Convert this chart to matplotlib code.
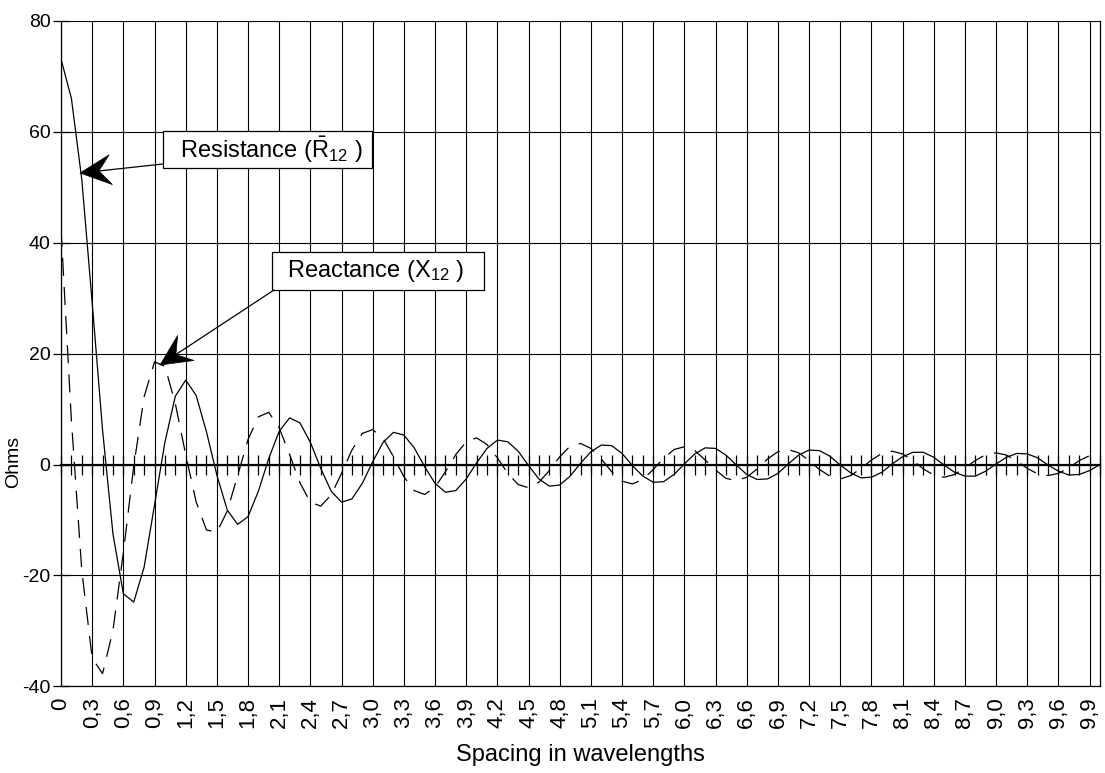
import numpy as np
import matplotlib.pyplot as plt
from matplotlib.patches import Polygon, Rectangle
from matplotlib.ticker import FixedLocator, MultipleLocator, FuncFormatter
from matplotlib.transforms import IdentityTransform

plt.rcParams['font.family'] = ['Liberation Sans', 'DejaVu Sans']
plt.rcParams['mathtext.fontset'] = 'custom'
plt.rcParams['mathtext.rm'] = 'Liberation Sans'
plt.rcParams['mathtext.it'] = 'Liberation Sans:italic'
plt.rcParams['lines.scale_dashes'] = False
plt.rcParams['axes.unicode_minus'] = False

# spacing in wavelengths, one category every 0.1
spacing = np.round(np.arange(101) * 0.1, 1)

# mutual resistance R12 (ohms)
resistance = [
    73.1, 66.0, 51.4, 29.2, 6.2, -12.5, -23.3, -24.8, -18.5, -7.3,
    4.0, 12.3, 15.2, 12.5, 5.9, -1.9, -8.2, -10.8, -9.4, -4.8,
    1.1, 6.0, 8.4, 7.5, 4.0, -0.7, -4.8, -6.8, -6.2, -3.4,
    0.5, 4.0, 5.8, 5.3, 3.0, -0.4, -3.4, -5.0, -4.7, -2.6,
    0.3, 2.9, 4.4, 4.1, 2.4, -0.2, -2.6, -3.9, -3.7, -2.1,
    0.2, 2.3, 3.5, 3.4, 2.0, -0.2, -2.1, -3.2, -3.1, -1.8,
    0.1, 1.9, 3.0, 2.9, 1.7, -0.1, -1.8, -2.7, -2.6, -1.6,
    0.1, 1.7, 2.6, 2.5, 1.5, -0.1, -1.5, -2.4, -2.3, -1.4,
    0.1, 1.4, 2.2, 2.2, 1.3, -0.1, -1.4, -2.1, -2.1, -1.2,
    0.1, 1.3, 2.0, 1.9, 1.2, -0.1, -1.2, -1.9, -1.8, -1.1,
    0.0,
]

# mutual reactance X12 (ohms)
reactance = [
    42.5, 8.0, -19.1, -34.9, -37.7, -29.9, -15.9, -0.3, 12.2, 18.5,
    17.7, 11.0, 1.8, -6.7, -11.8, -12.2, -8.4, -2.0, 4.5, 8.6,
    9.4, 6.6, 1.8, -3.3, -6.8, -7.5, -5.5, -1.6, 2.6, 5.6,
    6.3, 4.7, 1.4, -2.2, -4.7, -5.4, -4.1, -1.3, 1.8, 4.1,
    4.8, 3.6, 1.2, -1.6, -3.6, -4.2, -3.2, -1.1, 1.4, 3.3,
    3.8, 2.9, 1.0, -1.3, -3.0, -3.5, -2.7, -0.9, 1.1, 2.7,
    3.2, 2.5, 0.8, -1.0, -2.5, -2.9, -2.3, -0.8, 1.0, 2.3,
    2.7, 2.1, 0.7, -0.9, -2.1, -2.6, -2.0, -0.7, 0.8, 2.0,
    2.4, 1.9, 0.7, -0.8, -1.9, -2.3, -1.8, -0.6, 0.7, 1.8,
    2.1, 1.7, 0.6, -0.7, -1.7, -2.0, -1.6, -0.6, 0.7, 1.6,
    1.9,
]

W, H = 1105, 773
fig = plt.figure(figsize=(W / 100, H / 100), dpi=100)
left, right, top, bottom = 61, 1100, 20.7, 686.4
ax = fig.add_axes([left / W, 1 - bottom / H, (right - left) / W, (bottom - top) / H])

ax.plot(spacing, resistance, color='black', lw=0.9, zorder=3)
ax.plot(spacing, reactance, color='black', lw=0.9, dashes=(13, 8), zorder=3)

ax.set_xlim(0, 10)
ax.set_ylim(-40, 80)
ax.set_axisbelow(True)

ax.xaxis.set_major_locator(FixedLocator(spacing[::3]))
ax.xaxis.set_minor_locator(FixedLocator(spacing))
ax.xaxis.set_major_formatter(
    FuncFormatter(lambda v, p: '0' if v == 0 else f'{v:.1f}'.replace('.', ',')))
ax.yaxis.set_major_locator(MultipleLocator(20))
ax.grid(True, which='major', color='black', lw=0.8)

# value axis crosses at zero: use the top spine as the category axis line
ax.spines['top'].set_position(('data', 0))
ax.spines['top'].set_linewidth(1.6)
for s in ['left', 'right', 'bottom']:
    ax.spines[s].set_linewidth(0.9)
ax.tick_params(axis='x', which='both', top=True, bottom=False, labeltop=False,
               direction='inout', length=14, width=0.9, pad=0.8,
               labelsize=16, labelrotation=90)
ax.tick_params(axis='y', direction='inout', length=11, width=0.9, pad=2,
               labelsize=14)

fig.text(14 / W, 1 - 462 / H, 'Ohms', rotation=90, ha='center', va='center',
         fontsize=14)
fig.text(580 / W, 1 - 755 / H, 'Spacing in wavelengths', ha='center',
         va='center', fontsize=17)


def px_to_data(x, y):
    return ax.transData.inverted().transform(fig.transFigure.transform((x / W, 1 - y / H)))


def callout(box, text_xy, label, tail, tip):
    (x0, y0), (x1, y1) = px_to_data(*box[0]), px_to_data(*box[1])
    ax.add_patch(Rectangle((x0, y1), x1 - x0, y0 - y1, fc='white', ec='black',
                           lw=0.9, zorder=5))
    tx, ty = px_to_data(*text_xy)
    ax.text(tx, ty, label, ha='left', va='center', fontsize=17, zorder=6)
    t = np.array(fig.transFigure.transform((tail[0] / W, 1 - tail[1] / H)))
    p = np.array(fig.transFigure.transform((tip[0] / W, 1 - tip[1] / H)))
    u = (t - p) / np.hypot(*(t - p))
    n = np.array([-u[1], u[0]])
    base = p + u * 31
    notch = p + u * 19
    ax.plot([t[0], notch[0]], [t[1], notch[1]], color='black', lw=0.9,
            transform=IdentityTransform(), zorder=6)
    ax.add_patch(Polygon([p, base + n * 15, notch, base - n * 15], closed=True,
                         fc='black', ec='black', lw=0.5,
                         transform=IdentityTransform(), zorder=6))


callout(((163, 131), (372, 168)), (180, 150), r'Resistance ($\bar{\mathrm{R}}_{12}$ )',
        (163, 164), (80, 173))
callout(((272, 252), (484, 290)), (287, 271), r'Reactance (X$_{12}$ )',
        (274, 290), (160, 365))

fig.savefig('out.png', dpi=100)
